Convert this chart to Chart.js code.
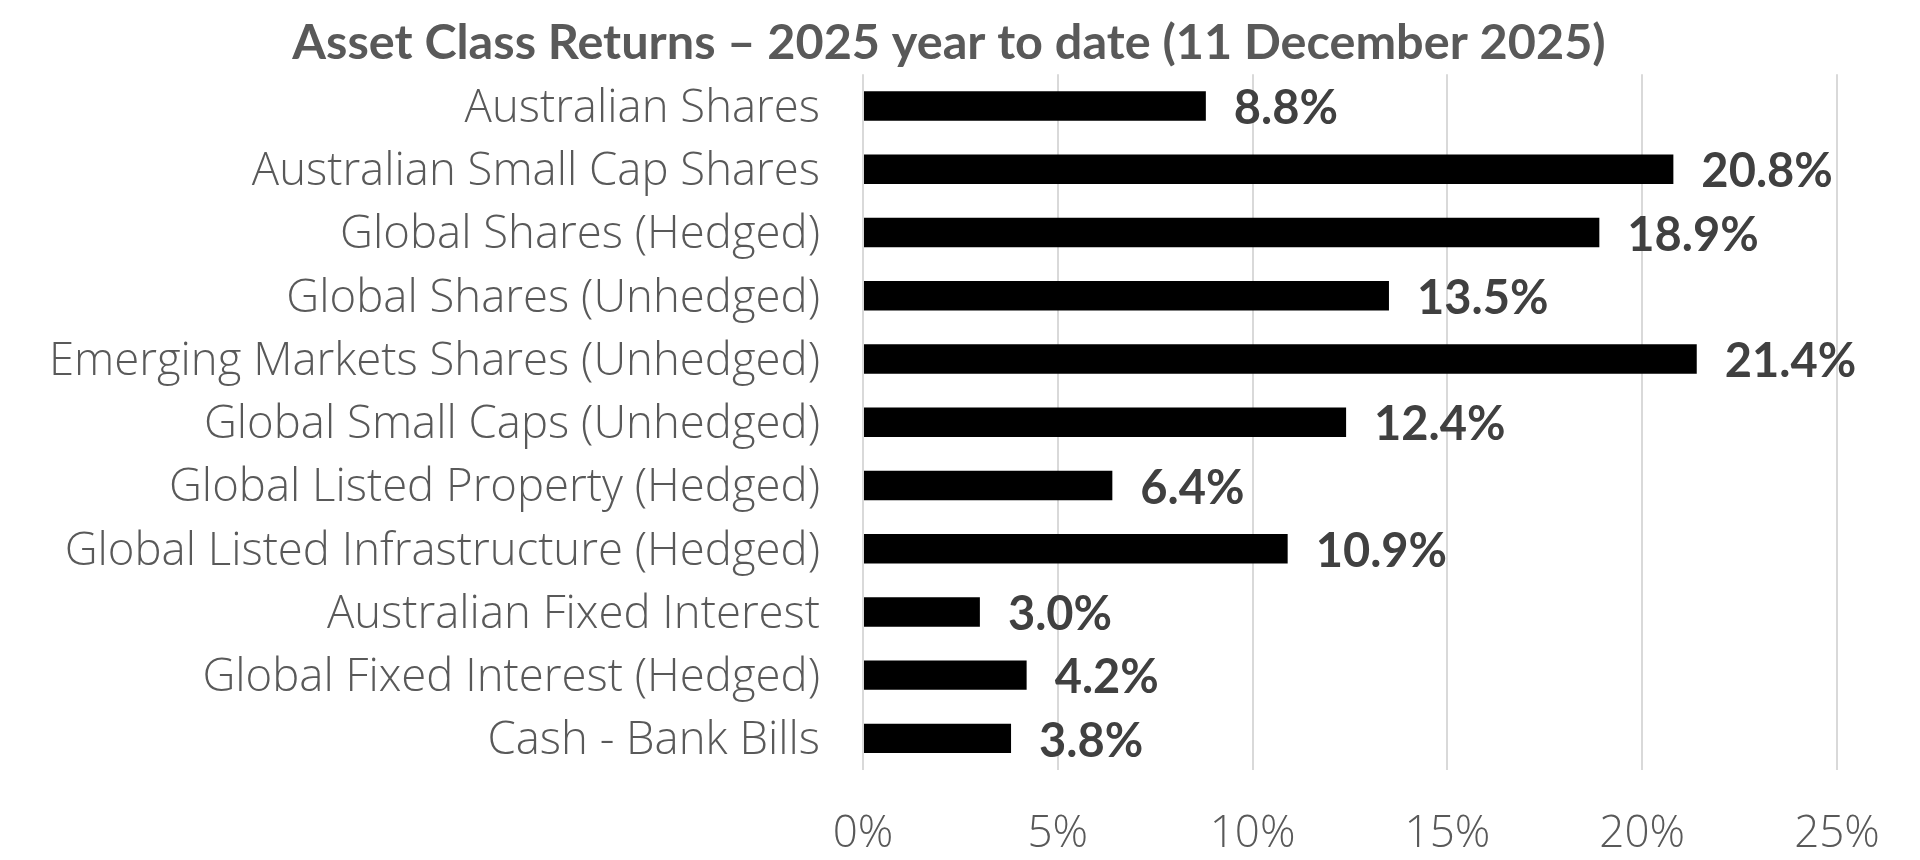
<!DOCTYPE html>
<html>
<head>
<meta charset="utf-8">
<script src="https://cdn.jsdelivr.net/npm/chart.js@4.4.1/dist/chart.umd.min.js"></script>
<style>
html,body{margin:0;padding:0;background:#fff;}
#wrap{width:1920px;height:860px;}
</style>
</head>
<body>
<div id="wrap"><canvas id="c" width="1920" height="860"></canvas></div>
<script>
const categories = [
  "Australian Shares",
  "Australian Small Cap Shares",
  "Global Shares (Hedged)",
  "Global Shares (Unhedged)",
  "Emerging Markets Shares (Unhedged)",
  "Global Small Caps (Unhedged)",
  "Global Listed Property (Hedged)",
  "Global Listed Infrastructure (Hedged)",
  "Australian Fixed Interest",
  "Global Fixed Interest (Hedged)",
  "Cash - Bank Bills"
];
const returns = [8.8, 20.8, 18.9, 13.5, 21.4, 12.4, 6.4, 10.9, 3.0, 4.2, 3.8];
const xTicks = [0, 5, 10, 15, 20, 25];
const titleText = "Asset Class Returns \u2013 2025 year to date (11 December 2025)";

const BOLD_FONT = "Lato, 'Open Sans', sans-serif";
const LIGHT_FONT = "'Open Sans', Lato, sans-serif";

const valueLabels = {
  id: 'valueLabels',
  afterDatasetsDraw(chart) {
    const ctx = chart.ctx;
    const meta = chart.getDatasetMeta(0);
    ctx.save();
    ctx.font = "bold 47px " + BOLD_FONT;
    ctx.fillStyle = "#404040";
    ctx.textAlign = "left";
    ctx.textBaseline = "middle";
    meta.data.forEach((bar, i) => {
      ctx.fillText(returns[i].toFixed(1) + "%", bar.x + 28, bar.y + 3);
    });
    ctx.restore();
  }
};

new Chart(document.getElementById('c'), {
  type: 'bar',
  data: {
    labels: categories,
    datasets: [{
      data: returns,
      yAxisID: 'y',
      backgroundColor: '#000000',
      borderWidth: 0,
      categoryPercentage: 1.0,
      barPercentage: 0.466
    }]
  },
  plugins: [valueLabels],
  options: {
    indexAxis: 'y',
    responsive: false,
    animation: false,
    devicePixelRatio: 1,
    layout: { padding: { left: 40, right: 62, top: 0, bottom: 0 } },
    plugins: {
      legend: { display: false },
      tooltip: { enabled: false },
      title: {
        display: true,
        text: titleText,
        color: '#595959',
        font: { family: BOLD_FONT, size: 48.6, weight: 'bold' },
        padding: { top: 14, bottom: 2 }
      }
    },
    scales: {
      x: {
        min: 0,
        max: 25,
        afterBuildTicks(scale) { scale.ticks = xTicks.map(v => ({ value: v })); },
        afterFit(scale) { scale.height = 90; },
        ticks: {
          callback: v => v + "%",
          color: '#595959',
          font: { family: LIGHT_FONT, size: 44, weight: '300' },
          padding: 38
        },
        grid: { color: '#d9d9d9', lineWidth: 2, drawTicks: false },
        border: { display: false }
      },
      y: {
        afterFit(scale) { scale.width = 863 - 40; },
        ticks: {
          color: '#595959',
          font: { family: LIGHT_FONT, size: 45.5, weight: '300' },
          padding: 35,
          labelOffset: 3
        },
        grid: { display: false },
        border: { display: false }
      },
      yRight: {
        type: 'category',
        labels: categories,
        position: 'right',
        afterFit(scale) { scale.width = 21; },
        ticks: { display: false },
        grid: { display: false, drawTicks: false },
        border: { display: false }
      }
    }
  }
});
</script>
</body>
</html>
